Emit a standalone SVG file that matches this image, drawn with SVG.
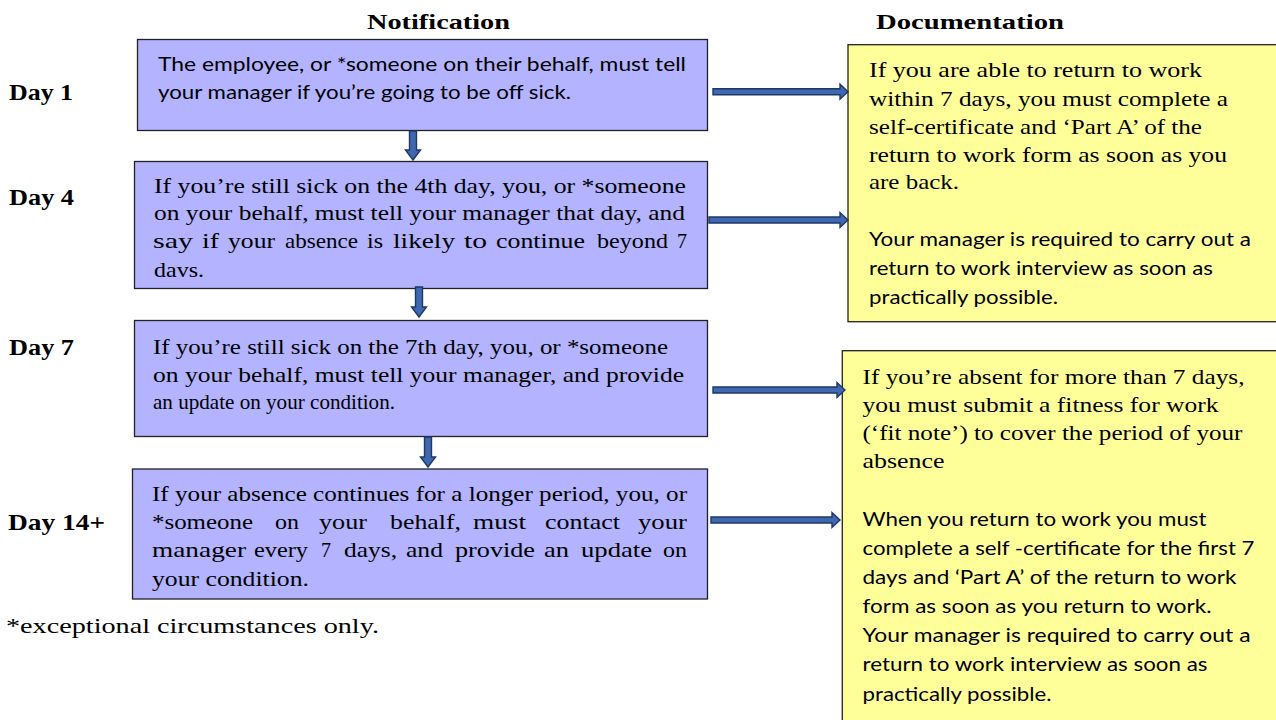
<svg xmlns="http://www.w3.org/2000/svg" width="1276" height="720" viewBox="0 0 1276 720">
<style>
.bg{fill:#ffffff}
.nbox{fill:#b3b3ff;stroke:#222222;stroke-width:1.3}
.ybox{fill:#ffff99;stroke:#222222;stroke-width:1.3}
.ser{font-family:"Liberation Serif","Times New Roman",serif;font-size:21px;fill:#000}
.sans{font-family:Lato,"Open Sans",sans-serif;font-size:20px;fill:#000}
.bold{font-family:"Liberation Serif","Times New Roman",serif;font-size:21px;font-weight:bold;fill:#000}
.day{font-family:"Liberation Serif","Times New Roman",serif;font-size:24px;font-weight:bold;fill:#000}
.arr{fill:#3f68b0;stroke:#1f3864;stroke-width:1.4;stroke-linejoin:miter}
</style>
<rect class="bg" x="0" y="0" width="1276" height="720"/>

<g id="titles">
<text class="bold" x="367" y="29" textLength="143" lengthAdjust="spacingAndGlyphs">Notification</text>
<text class="bold" x="876" y="29" textLength="188" lengthAdjust="spacingAndGlyphs">Documentation</text>
</g>

<g id="day-labels">
<text class="day" x="9" y="100" textLength="64" lengthAdjust="spacingAndGlyphs">Day 1</text>
<text class="day" x="9" y="205" textLength="65" lengthAdjust="spacingAndGlyphs">Day 4</text>
<text class="day" x="9" y="355" textLength="65" lengthAdjust="spacingAndGlyphs">Day 7</text>
<text class="day" x="8" y="530" textLength="97" lengthAdjust="spacingAndGlyphs">Day 14+</text>
</g>

<g id="node-day1">
<rect class="nbox" x="137.5" y="39.5" width="570" height="91"/>
<text class="sans" x="158" y="71" textLength="528" lengthAdjust="spacingAndGlyphs">The employee, or *someone on their behalf, must tell</text>
<text class="sans" x="158" y="99" textLength="413" lengthAdjust="spacingAndGlyphs">your manager if you’re going to be off sick.</text>
</g>

<g id="node-day4">
<rect class="nbox" x="134.5" y="161.5" width="573" height="127"/>
<text class="ser" x="154" y="193" textLength="532" lengthAdjust="spacingAndGlyphs">If you’re still sick on the 4th day, you, or *someone</text>
<text class="ser" x="154" y="220" textLength="531" lengthAdjust="spacingAndGlyphs">on your behalf, must tell your manager that day, and</text>
<text class="ser" y="248"><tspan x="153" textLength="40" lengthAdjust="spacingAndGlyphs">say</tspan><tspan x="202" textLength="17" lengthAdjust="spacingAndGlyphs">if</tspan><tspan x="228" textLength="47" lengthAdjust="spacingAndGlyphs">your</tspan><tspan x="285" textLength="73" lengthAdjust="spacingAndGlyphs">absence</tspan><tspan x="367" textLength="16" lengthAdjust="spacingAndGlyphs">is</tspan><tspan x="393" textLength="62" lengthAdjust="spacingAndGlyphs">likely</tspan><tspan x="464" textLength="23" lengthAdjust="spacingAndGlyphs">to</tspan><tspan x="496" textLength="89" lengthAdjust="spacingAndGlyphs">continue</tspan><tspan x="597" textLength="71" lengthAdjust="spacingAndGlyphs">beyond</tspan><tspan x="677" textLength="10" lengthAdjust="spacingAndGlyphs">7</tspan></text>
<text class="ser" x="154" y="277" textLength="50" lengthAdjust="spacingAndGlyphs">davs.</text>
</g>

<g id="node-day7">
<rect class="nbox" x="134.5" y="320.5" width="573" height="116"/>
<text class="ser" x="153" y="354" textLength="515" lengthAdjust="spacingAndGlyphs">If you’re still sick on the 7th day, you, or *someone</text>
<text class="ser" x="153" y="382" textLength="531" lengthAdjust="spacingAndGlyphs">on your behalf, must tell your manager, and provide</text>
<text class="ser" x="153" y="409" textLength="242" lengthAdjust="spacingAndGlyphs">an update on your condition.</text>
</g>

<g id="node-day14">
<rect class="nbox" x="132.5" y="469" width="575" height="130"/>
<text class="ser" x="152" y="501" textLength="535" lengthAdjust="spacingAndGlyphs">If your absence continues for a longer period, you, or</text>
<text class="ser" y="529"><tspan x="152" textLength="101" lengthAdjust="spacingAndGlyphs">*someone</tspan><tspan x="275" textLength="24" lengthAdjust="spacingAndGlyphs">on</tspan><tspan x="319" textLength="48" lengthAdjust="spacingAndGlyphs">your</tspan><tspan x="390" textLength="71" lengthAdjust="spacingAndGlyphs">behalf,</tspan><tspan x="473" textLength="53" lengthAdjust="spacingAndGlyphs">must</tspan><tspan x="545" textLength="75" lengthAdjust="spacingAndGlyphs">contact</tspan><tspan x="638" textLength="49" lengthAdjust="spacingAndGlyphs">your</tspan></text>
<text class="ser" y="557"><tspan x="152" textLength="94" lengthAdjust="spacingAndGlyphs">manager</tspan><tspan x="254" textLength="54" lengthAdjust="spacingAndGlyphs">every</tspan><tspan x="321" textLength="10" lengthAdjust="spacingAndGlyphs">7</tspan><tspan x="344" textLength="53" lengthAdjust="spacingAndGlyphs">days,</tspan><tspan x="406" textLength="37" lengthAdjust="spacingAndGlyphs">and</tspan><tspan x="455" textLength="80" lengthAdjust="spacingAndGlyphs">provide</tspan><tspan x="544" textLength="25" lengthAdjust="spacingAndGlyphs">an</tspan><tspan x="581" textLength="71" lengthAdjust="spacingAndGlyphs">update</tspan><tspan x="663" textLength="24" lengthAdjust="spacingAndGlyphs">on</tspan></text>
<text class="ser" x="152" y="586" textLength="157" lengthAdjust="spacingAndGlyphs">your condition.</text>
</g>

<g id="footnote">
<text class="ser" x="6" y="633" textLength="373" lengthAdjust="spacingAndGlyphs">*exceptional circumstances only.</text>
</g>

<g id="doc-1to7">
<rect class="ybox" x="848" y="44.7" width="440" height="277"/>
<text class="ser" x="869" y="77" textLength="333" lengthAdjust="spacingAndGlyphs">If  you are able to return to work</text>
<text class="ser" x="869" y="106" textLength="359" lengthAdjust="spacingAndGlyphs">within 7 days, you must complete a</text>
<text class="ser" x="869" y="134" textLength="333" lengthAdjust="spacingAndGlyphs">self-certificate and ‘Part A’ of the</text>
<text class="ser" x="869" y="162" textLength="358" lengthAdjust="spacingAndGlyphs">return to work form as soon as you</text>
<text class="ser" x="869" y="189" textLength="90" lengthAdjust="spacingAndGlyphs">are back.</text>
<text class="sans" x="869" y="246" textLength="382" lengthAdjust="spacingAndGlyphs">Your manager is required to carry out a</text>
<text class="sans" x="869" y="275" textLength="344" lengthAdjust="spacingAndGlyphs">return to work interview as soon as</text>
<text class="sans" x="869" y="304" textLength="189" lengthAdjust="spacingAndGlyphs">practically possible.</text>
</g>

<g id="doc-over7">
<rect class="ybox" x="842.3" y="350.7" width="446" height="380"/>
<text class="ser" x="862.5" y="384" textLength="382" lengthAdjust="spacingAndGlyphs">If you’re absent for more than 7 days,</text>
<text class="ser" x="862.5" y="412" textLength="356" lengthAdjust="spacingAndGlyphs">you must submit a fitness for work</text>
<text class="ser" x="862.5" y="440" textLength="380" lengthAdjust="spacingAndGlyphs">(‘fit note’) to cover the period of your</text>
<text class="ser" x="862.5" y="468" textLength="82" lengthAdjust="spacingAndGlyphs">absence</text>
<text class="sans" x="862.5" y="526" textLength="344" lengthAdjust="spacingAndGlyphs">When you return to work you must</text>
<text class="sans" x="862.5" y="555" textLength="392" lengthAdjust="spacingAndGlyphs">complete a self -certificate for the first 7</text>
<text class="sans" x="862.5" y="584" textLength="374" lengthAdjust="spacingAndGlyphs">days and ‘Part A’ of the return to work</text>
<text class="sans" x="862.5" y="613" textLength="349" lengthAdjust="spacingAndGlyphs">form as soon as you return to work.</text>
<text class="sans" x="862.5" y="642" textLength="388" lengthAdjust="spacingAndGlyphs">Your  manager is required to carry out a</text>
<text class="sans" x="862.5" y="671" textLength="345" lengthAdjust="spacingAndGlyphs">return to work interview as soon as</text>
<text class="sans" x="862.5" y="701" textLength="189" lengthAdjust="spacingAndGlyphs">practically possible.</text>
</g>

<g id="connectors">
<path class="arr" d="M713,88.7 L840,88.7 L840,84.2 L848,91.7 L840,99.2 L840,94.7 L713,94.7 Z"/>
<path class="arr" d="M709,217 L840,217 L840,212.5 L848,220 L840,227.5 L840,223 L709,223 Z"/>
<path class="arr" d="M713,387 L837,387 L837,382.5 L845,390 L837,397.5 L837,393 L713,393 Z"/>
<path class="arr" d="M711,517 L832,517 L832,512.5 L840,520 L832,527.5 L832,523 L711,523 Z"/>
<path class="arr" d="M409.5,131 L416.5,131 L416.5,150 L420.5,150 L413,160 L405.5,150 L409.5,150 Z"/>
<path class="arr" d="M415.5,287 L422.5,287 L422.5,307 L426.5,307 L419,317 L411.5,307 L415.5,307 Z"/>
<path class="arr" d="M424.5,437 L431.5,437 L431.5,457 L435.5,457 L428,467 L420.5,457 L424.5,457 Z"/>
</g>
</svg>
